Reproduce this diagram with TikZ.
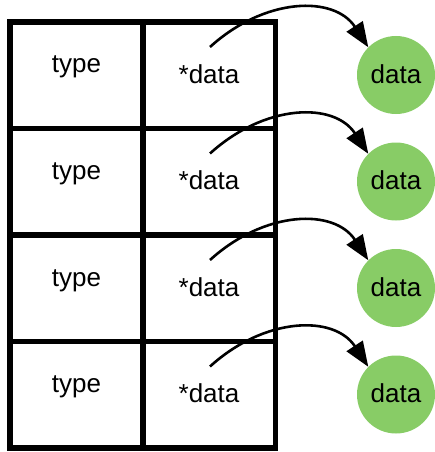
\documentclass[tikz,border=0pt]{standalone}
\usepackage{fontspec}
\setmainfont{Liberation Sans}
\usetikzlibrary{arrows.meta}
\definecolor{leaf}{HTML}{88CC66}
\tikzset{
  cell/.style={draw=black, line width=5.5pt, minimum width=133pt, minimum height=106.5pt, inner sep=0pt, rectangle},
  lbl/.style={font=\fontsize{26}{30}\selectfont, anchor=base, inner sep=0pt},
  blob/.style={circle, fill=leaf, minimum size=78pt, inner sep=0pt},
  ptr/.style={line width=2.6pt, -{Triangle[length=25pt,width=19pt]}}
}
\begin{document}
\begin{tikzpicture}[x=1pt,y=-1pt]
\useasboundingbox (0,0) rectangle (434,452);
\foreach \k in {0,1,2,3}{
  \pgfmathsetmacro{\top}{22+106.5*\k}
  \node[cell] (t\k) at (76.5,\top+53.25) {};
  \node[cell] (p\k) at (209,\top+53.25) {};
  \node[lbl] (tl\k) at (76.5,\top+51) {type};
  \node[lbl] (pl\k) at (209,\top+61) {*data};
  \node[blob] (d\k) at (396,\top+53) {};
  \node[lbl] (dl\k) at (396,\top+61) {data};
  \coordinate (s\k) at (210,\top+25);
  \draw[ptr] (s\k) .. controls +(55,-50) and +(-34,-52) .. (d\k.135);
}
\end{tikzpicture}
\end{document}
